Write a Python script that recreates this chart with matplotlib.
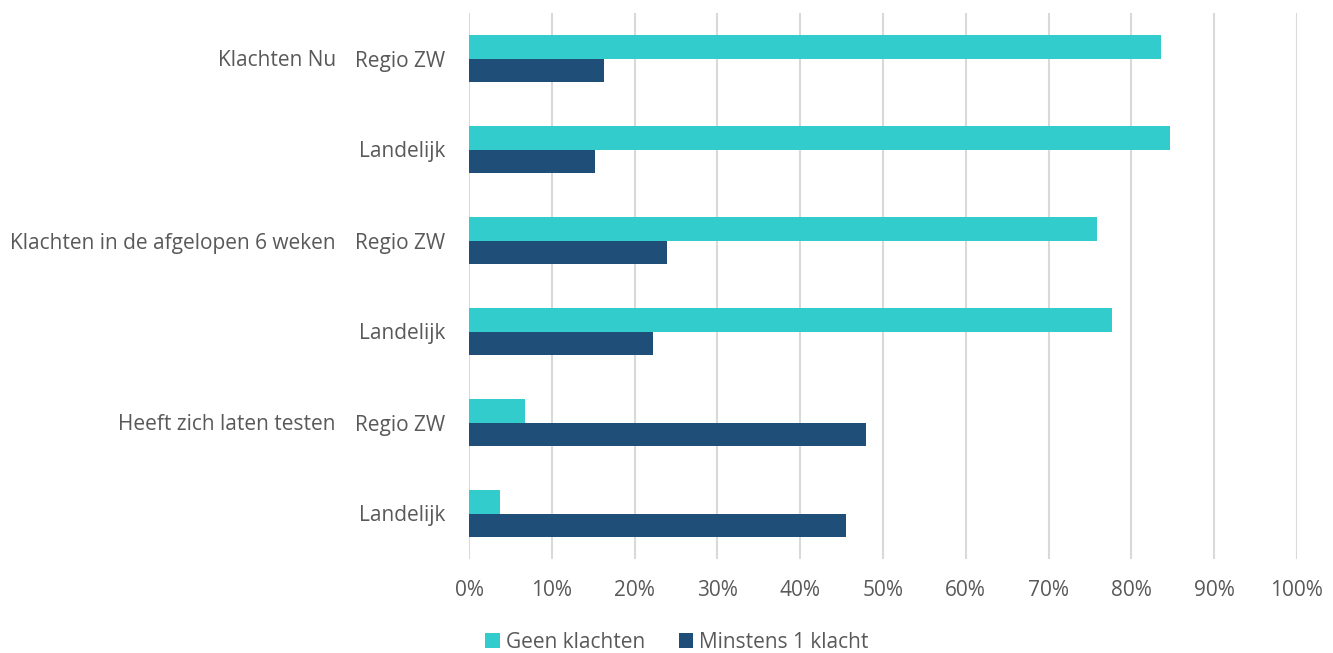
import matplotlib
matplotlib.use("Agg")
import matplotlib.pyplot as plt
import numpy as np

groups = ["Klachten Nu", "", "Klachten in de afgelopen 6 weken", "", "Heeft zich laten testen", ""]
regions = ["Regio ZW", "Landelijk", "Regio ZW", "Landelijk", "Regio ZW", "Landelijk"]
geen_klachten = [83.6, 84.7, 75.9, 77.6, 6.8, 3.8]
minstens_1_klacht = [16.3, 15.2, 23.9, 22.2, 48.0, 45.5]
series_names = ["Geen klachten", "Minstens 1 klacht"]
xticks = [0, 10, 20, 30, 40, 50, 60, 70, 80, 90, 100]

teal = "#33CCCC"
navy = "#1F4E79"
grid_c = "#D9D9D9"
text_c = "#595959"

plt.rcParams['font.family'] = ['Open Sans', 'DejaVu Sans']
fs = 15

fig = plt.figure(figsize=(13.33, 6.53), dpi=100)
ax = fig.add_axes([469/1333, 1-559/653, (1297-469)/1333, (559-13)/653])

y = np.arange(len(regions))
bh = 0.26
b1 = ax.barh(y - bh/2, geen_klachten, height=bh, color=teal, label=series_names[0], zorder=3)
b2 = ax.barh(y + bh/2, minstens_1_klacht, height=bh, color=navy, label=series_names[1], zorder=3)

ax.set_xlim(0, 100)
ax.set_ylim(len(regions) - 0.5, -0.5)
ax.set_xticks(xticks)
ax.set_xticklabels([f"{t}%" for t in xticks])
ax.set_yticks(y)
ax.set_yticklabels(regions)
ax.tick_params(axis='both', length=0, colors=text_c, labelsize=fs)
ax.tick_params(axis='y', pad=17)
ax.tick_params(axis='x', pad=15)
ax.xaxis.grid(True, color=grid_c, linewidth=1.5, zorder=0)
for s in ax.spines.values():
    s.set_visible(False)

trans = matplotlib.transforms.blended_transform_factory(ax.transAxes, ax.transData)
for i, g in enumerate(groups):
    if g:
        ax.text(-(469-336)/828, y[i], g, transform=trans, ha='right', va='center_baseline',
                color=text_c, fontsize=fs)

leg = fig.legend(handles=[b1, b2], labels=series_names, loc='center', bbox_to_anchor=(677/1333, 1-642/653),
                 ncol=2, frameon=False, fontsize=fs, handlelength=0.7, handleheight=0.7,
                 handletextpad=0.3, columnspacing=1.6, labelcolor=text_c)

fig.savefig("out.png", dpi=100)
